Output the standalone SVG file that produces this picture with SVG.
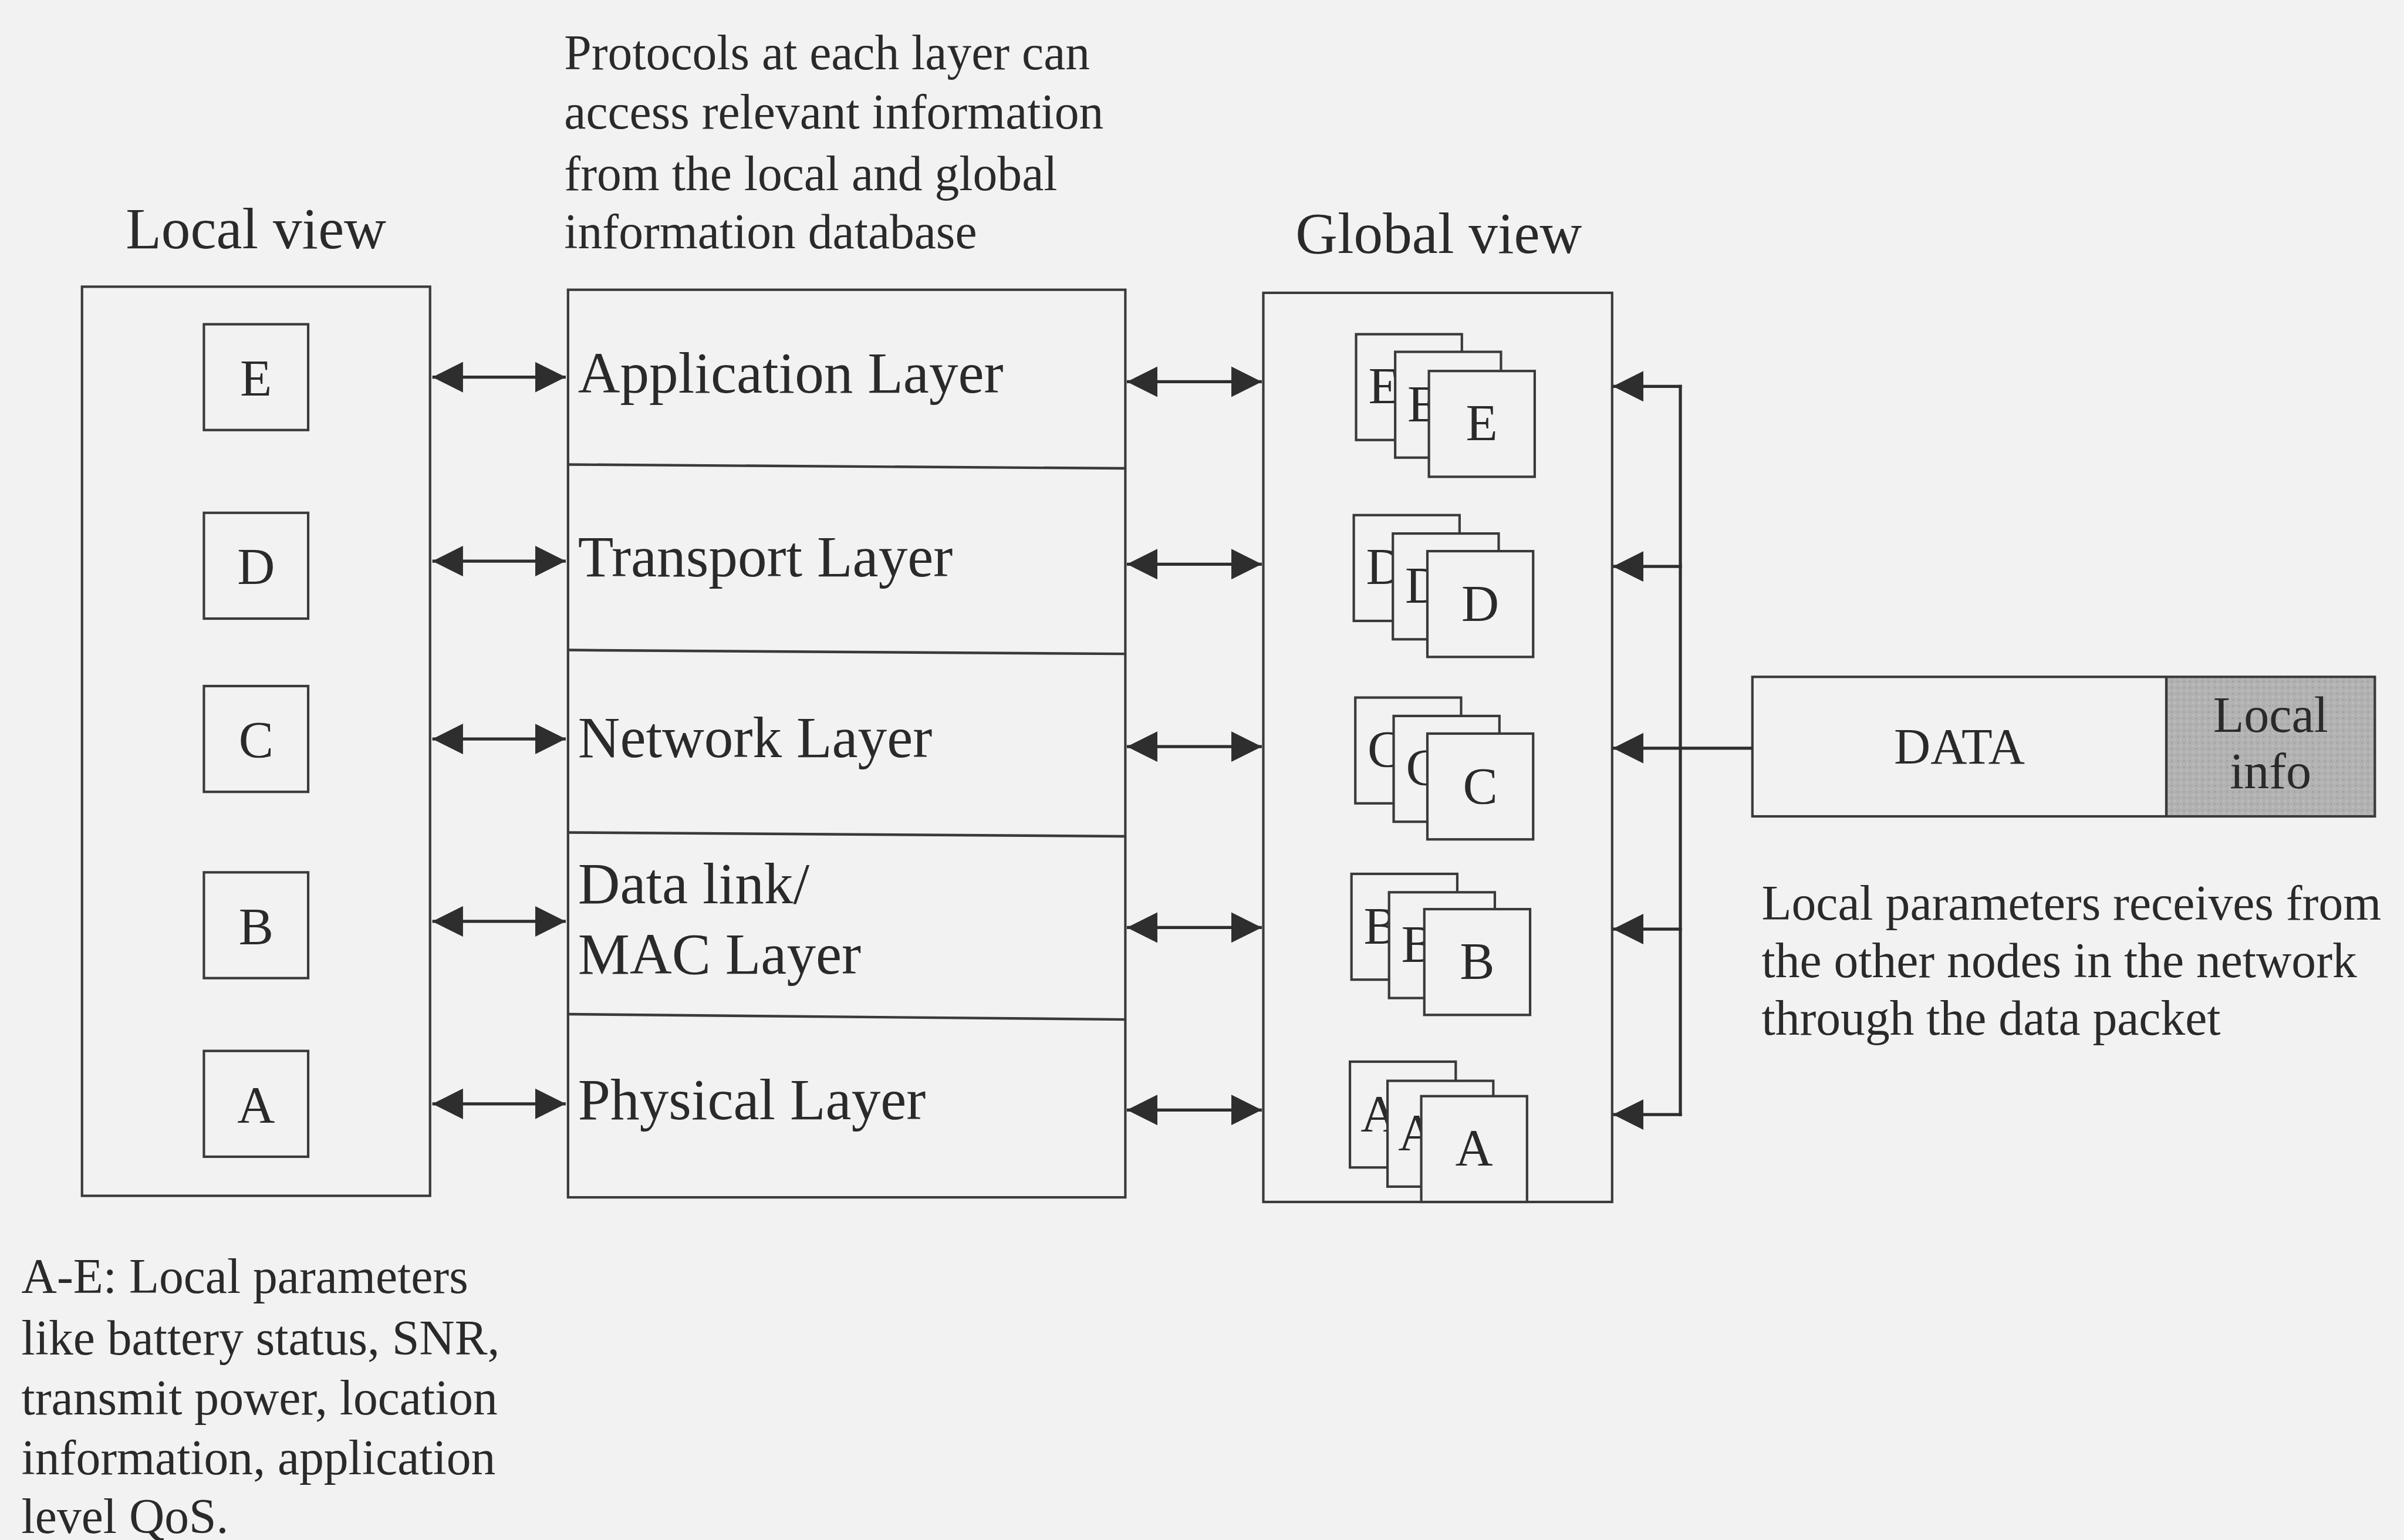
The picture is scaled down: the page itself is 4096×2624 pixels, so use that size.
<svg xmlns="http://www.w3.org/2000/svg" width="4096" height="2624" viewBox="0 0 4096 2624">
  <defs>
    <style>
      .bg { fill: #f2f2f2; }
      .box { fill: none; stroke: #3a3a3a; stroke-width: 1.6; }
      .card { fill: #f2f2f2; stroke: #3a3a3a; stroke-width: 1.6; }
      .rule { stroke: #3a3a3a; stroke-width: 1.7; fill: none; }
      .conn { stroke: #2e2e2e; stroke-width: 2; fill: none; }
      .t { font-family: "Liberation Serif", "Times New Roman", serif; fill: #2a2a2a; }
      .note { font-size: 32px; }
      .title { font-size: 38px; }
      .layer { font-size: 38px; }
      .letter { font-size: 34px; }
      .mid { text-anchor: middle; }
      .pkt { font-size: 33px; text-anchor: middle; }
    </style>
    <marker id="head" viewBox="0 0 20 20" refX="20" refY="10" markerWidth="20" markerHeight="20" markerUnits="userSpaceOnUse" orient="auto-start-reverse">
      <path d="M0,0 L20,10 L0,20 Z" fill="#2e2e2e"/>
    </marker>
    <pattern id="grain" width="4" height="4" patternUnits="userSpaceOnUse">
      <rect width="4" height="4" fill="#b2b2b2"/>
      <rect x="0" y="0" width="1" height="1" fill="#9c9c9c"/>
      <rect x="2" y="2" width="1" height="1" fill="#c4c4c4"/>
    </pattern>
  </defs>

  <g transform="scale(2.612245)">
    <rect class="bg" x="0" y="0" width="1568" height="1005"/>

    <!-- captions -->
    <g id="caption-top">
      <text class="t note" x="368" y="45">Protocols at each layer can</text>
      <text class="t note" x="368" y="84">access relevant information</text>
      <text class="t note" x="368" y="124">from the local and global</text>
      <text class="t note" x="368" y="162">information database</text>
    </g>
    <text id="title-local" class="t title" x="82" y="162">Local view</text>
    <text id="title-global" class="t title" x="845" y="165">Global view</text>

    <!-- local view: one parameter box per layer -->
    <g id="local-view">
      <rect class="box" x="53.5" y="187" width="227" height="593"/>
      <rect class="box" x="133" y="211.5" width="68" height="69"/>
      <text class="t letter mid" x="167" y="258">E</text>
      <rect class="box" x="133" y="334.5" width="68" height="69"/>
      <text class="t letter mid" x="167" y="381">D</text>
      <rect class="box" x="133" y="447.5" width="68" height="69"/>
      <text class="t letter mid" x="167" y="494">C</text>
      <rect class="box" x="133" y="569" width="68" height="69"/>
      <text class="t letter mid" x="167" y="615.5">B</text>
      <rect class="box" x="133" y="685.5" width="68" height="69"/>
      <text class="t letter mid" x="167" y="732">A</text>
    </g>

    <!-- protocol stack -->
    <g id="protocol-stack">
      <rect class="box" x="370.5" y="189" width="363.5" height="592"/>
      <line class="rule" x1="370.5" y1="303" x2="734" y2="305.5"/>
      <line class="rule" x1="370.5" y1="424" x2="734" y2="426.5"/>
      <line class="rule" x1="370.5" y1="543" x2="734" y2="545.5"/>
      <line class="rule" x1="370.5" y1="661.5" x2="734" y2="665"/>
      <text class="t layer" x="377" y="256">Application Layer</text>
      <text class="t layer" x="377" y="376">Transport Layer</text>
      <text class="t layer" x="377" y="494">Network Layer</text>
      <text class="t layer" x="377" y="589">Data link/</text>
      <text class="t layer" x="377" y="635">MAC Layer</text>
      <text class="t layer" x="377" y="730">Physical Layer</text>
    </g>

    <!-- global view: stacked copies of each parameter -->
    <g id="global-view">
      <rect class="box" x="824" y="191" width="227.5" height="593"/>
      <g id="stack-e">
        <rect class="card" x="884.5" y="218" width="69" height="69"/>
        <text class="t letter" x="892.5" y="263">E</text>
        <rect class="card" x="910" y="229.5" width="69" height="69"/>
        <text class="t letter" x="918" y="275">E</text>
        <rect class="card" x="932" y="242" width="69" height="69"/>
        <text class="t letter mid" x="966.5" y="287">E</text>
      </g>
      <g id="stack-d">
        <rect class="card" x="883" y="336" width="69" height="69"/>
        <text class="t letter" x="891" y="381">D</text>
        <rect class="card" x="908.5" y="348" width="69" height="69"/>
        <text class="t letter" x="916.5" y="393">D</text>
        <rect class="card" x="931" y="359.5" width="69" height="69"/>
        <text class="t letter mid" x="965.5" y="405">D</text>
      </g>
      <g id="stack-c">
        <rect class="card" x="884" y="455" width="69" height="69"/>
        <text class="t letter" x="892" y="500">C</text>
        <rect class="card" x="909" y="467" width="69" height="69"/>
        <text class="t letter" x="917" y="512">C</text>
        <rect class="card" x="931" y="478.5" width="69" height="69"/>
        <text class="t letter mid" x="965.5" y="524">C</text>
      </g>
      <g id="stack-b">
        <rect class="card" x="881.5" y="570" width="69" height="69"/>
        <text class="t letter" x="889.5" y="615">B</text>
        <rect class="card" x="906" y="582" width="69" height="69"/>
        <text class="t letter" x="914" y="627">B</text>
        <rect class="card" x="929" y="593" width="69" height="69"/>
        <text class="t letter mid" x="963.5" y="638">B</text>
      </g>
      <g id="stack-a">
        <rect class="card" x="880.5" y="692.5" width="69" height="69"/>
        <text class="t letter" x="887.5" y="737.5">A</text>
        <rect class="card" x="905" y="705" width="69" height="69"/>
        <text class="t letter" x="912" y="750">A</text>
        <rect class="card" x="927" y="715" width="69" height="69"/>
        <text class="t letter mid" x="961.5" y="760">A</text>
      </g>
    </g>

    <!-- data packet carrying local info from other nodes -->
    <g id="data-packet">
      <rect x="1413" y="441.5" width="136" height="91" fill="url(#grain)"/>
      <rect class="box" x="1143" y="441.5" width="406" height="91"/>
      <line class="rule" x1="1413" y1="441.5" x2="1413" y2="532.5"/>
      <text class="t pkt" x="1278" y="498">DATA</text>
      <text class="t pkt" x="1481" y="477.5">Local</text>
      <text class="t pkt" x="1481" y="514">info</text>
    </g>

    <g id="caption-right">
      <text class="t note" x="1149" y="600">Local parameters receives from</text>
      <text class="t note" x="1149" y="637.5">the other nodes in the network</text>
      <text class="t note" x="1149" y="675">through the data packet</text>
    </g>

    <g id="caption-bottom">
      <text class="t note" x="14" y="843.5">A-E: Local parameters</text>
      <text class="t note" x="14" y="883.5">like battery status, SNR,</text>
      <text class="t note" x="14" y="922.5">transmit power, location</text>
      <text class="t note" x="14" y="961.5">information, application</text>
      <text class="t note" x="14" y="1000">level QoS.</text>
    </g>

    <!-- connectors -->
    <g id="connectors">
      <!-- local view <-> layers -->
      <line class="conn" x1="282" y1="246" x2="369" y2="246" marker-start="url(#head)" marker-end="url(#head)"/>
      <line class="conn" x1="282" y1="366" x2="369" y2="366" marker-start="url(#head)" marker-end="url(#head)"/>
      <line class="conn" x1="282" y1="482" x2="369" y2="482" marker-start="url(#head)" marker-end="url(#head)"/>
      <line class="conn" x1="282" y1="601" x2="369" y2="601" marker-start="url(#head)" marker-end="url(#head)"/>
      <line class="conn" x1="282" y1="720" x2="369" y2="720" marker-start="url(#head)" marker-end="url(#head)"/>
      <!-- layers <-> global view -->
      <line class="conn" x1="735" y1="249" x2="823" y2="249" marker-start="url(#head)" marker-end="url(#head)"/>
      <line class="conn" x1="735" y1="368" x2="823" y2="368" marker-start="url(#head)" marker-end="url(#head)"/>
      <line class="conn" x1="735" y1="487" x2="823" y2="487" marker-start="url(#head)" marker-end="url(#head)"/>
      <line class="conn" x1="735" y1="605" x2="823" y2="605" marker-start="url(#head)" marker-end="url(#head)"/>
      <line class="conn" x1="735" y1="724" x2="823" y2="724" marker-start="url(#head)" marker-end="url(#head)"/>
      <!-- packet feed into global view -->
      <line class="conn" x1="1096" y1="251" x2="1096" y2="728"/>
      <line class="conn" x1="1097" y1="252" x2="1052" y2="252" marker-end="url(#head)"/>
      <line class="conn" x1="1097" y1="369.5" x2="1052" y2="369.5" marker-end="url(#head)"/>
      <line class="conn" x1="1143" y1="488" x2="1052" y2="488" marker-end="url(#head)"/>
      <line class="conn" x1="1097" y1="606" x2="1052" y2="606" marker-end="url(#head)"/>
      <line class="conn" x1="1097" y1="727" x2="1052" y2="727" marker-end="url(#head)"/>
    </g>
  </g>
</svg>
